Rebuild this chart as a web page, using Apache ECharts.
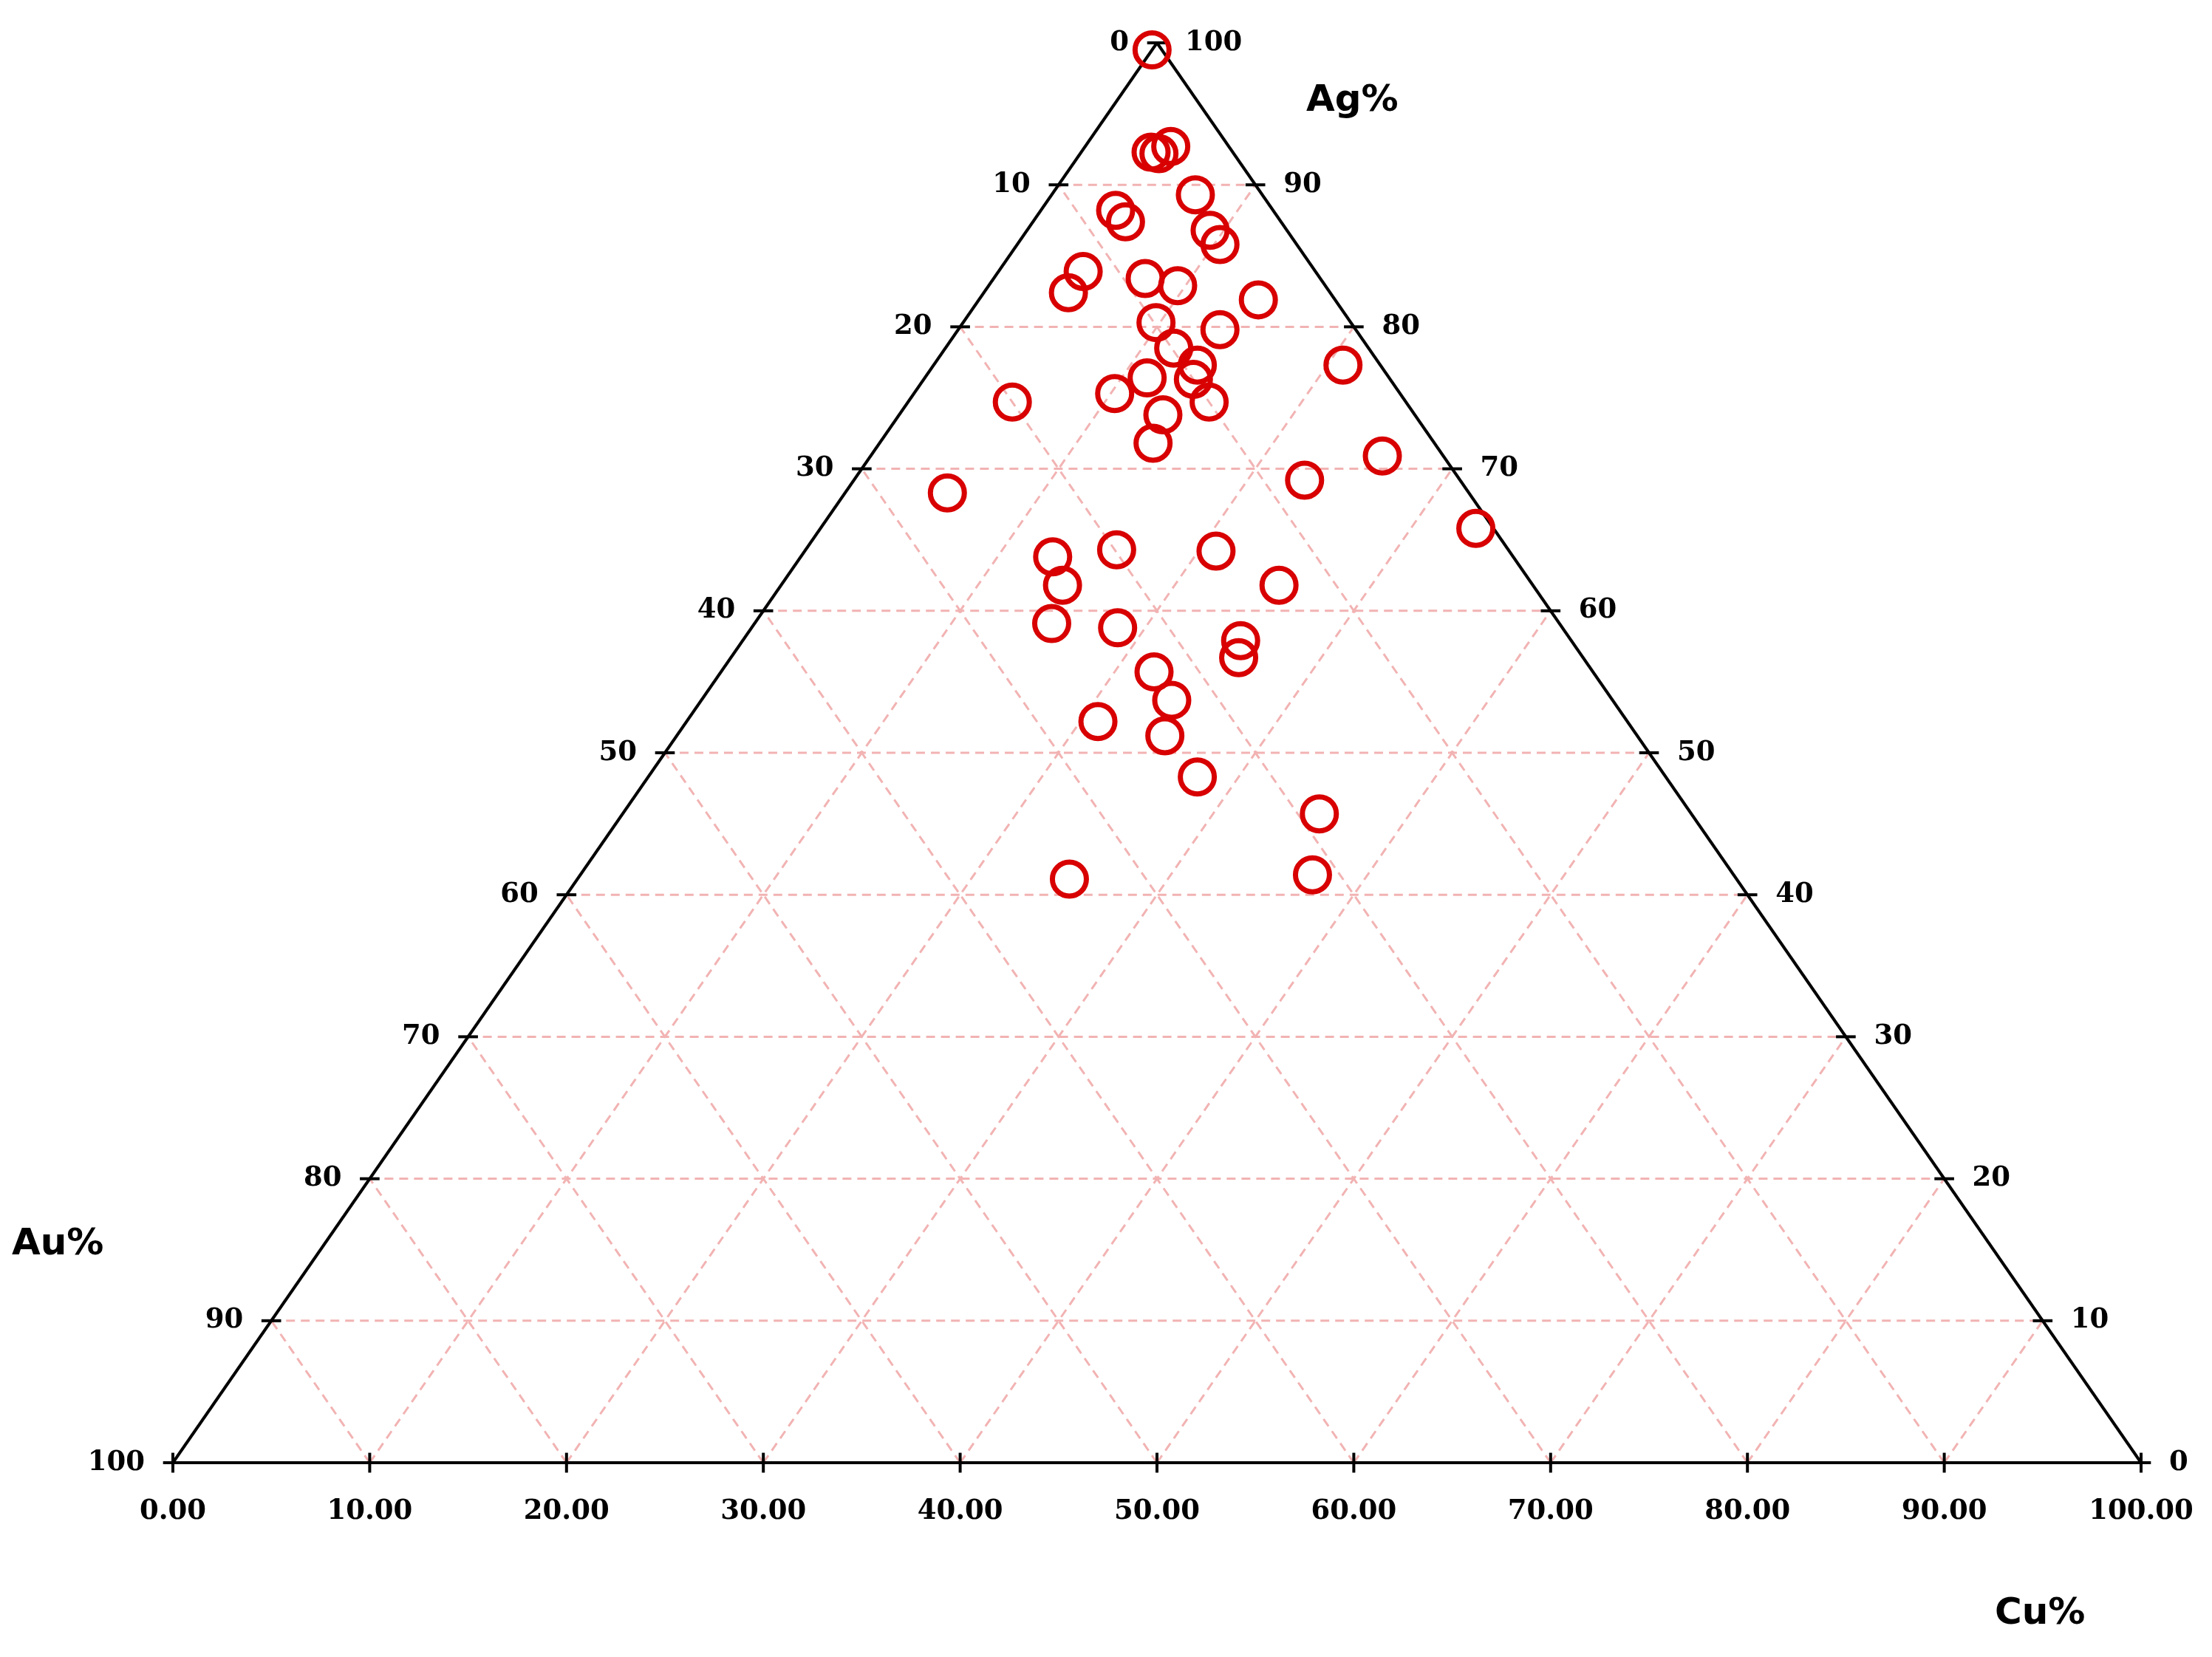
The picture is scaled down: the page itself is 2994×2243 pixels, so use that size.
<!DOCTYPE html>
<html><head><meta charset="utf-8">
<script src="https://cdn.jsdelivr.net/npm/echarts@6/dist/echarts.min.js"></script>
<style>html,body{margin:0;padding:0;background:#fff}#main{width:2994px;height:2243px}</style>
</head><body><div id="main"></div>
<script>
// ternary samples: Ag% and Cu%, Au% = 100 - Ag - Cu
var agVals = [99.5, 92.3, 92.2, 92.7, 89.3, 88.2, 87.4, 86.8, 85.8, 83.9, 82.4, 83.4, 82.9, 81.9, 80.3, 79.8, 78.5, 77.3,
  77.3, 76.3, 76.4, 74.7, 75.3, 74.7, 73.8, 71.8, 70.9, 69.2, 68.3, 65.8, 63.8, 64.3, 64.2, 61.8, 61.8, 59.1, 58.8, 57.9,
  56.7, 55.7, 53.7, 52.2, 51.2, 48.3, 45.7, 41.1, 41.4];
var cuVals = [0, 3.55, 4.0, 4.35, 7.3, 3.8, 4.7, 9.3, 10.3, 4.3, 4.3, 7.7, 9.6, 14.2, 9.8, 13.3, 11.6, 20.8,
  13.4, 13.7, 11.3, 15.3, 10.2, 5.3, 13.4, 13.9, 26.0, 22.9, 5.2, 33.3, 12.8, 15.8, 20.9, 14.3, 25.3, 15.1, 18.6, 25.3,
  25.8, 22.0, 23.9, 20.9, 24.8, 27.9, 35.4, 25.0, 37.2];
var gridSteps = [10, 20, 30, 40, 50, 60, 70, 80, 90];

var myChart = echarts.init(document.getElementById('main'));

// ternary -> cartesian (x along bottom, y = Ag)
function tern(ag, cu) { return [cu + ag / 2, ag]; }

var points = agVals.map(function (ag, i) { return tern(ag, cuVals[i]); });

var gridSegs = [];
gridSteps.forEach(function (k) {
  gridSegs.push(tern(k, 0).concat(tern(k, 100 - k)));        // Ag const
  gridSegs.push(tern(0, k).concat(tern(100 - k, k)));        // Cu const
  gridSegs.push(tern(0, 100 - k).concat(tern(100 - k, 0)));  // Au const
});
var edgeSegs = [[0, 0, 100, 0], [0, 0, 50, 100], [100, 0, 50, 100]];
var tickSegs = [];
gridSteps.forEach(function (k) {
  var l = tern(k, 0), r = tern(k, 100 - k);
  tickSegs.push([l[0] - 0.5, k, l[0] + 0.5, k]);
  tickSegs.push([r[0] - 0.5, k, r[0] + 0.5, k]);
});
[0, 10, 20, 30, 40, 50, 60, 70, 80, 90, 100].forEach(function (k) {
  tickSegs.push([k, -0.7, k, 0.7]);
});
tickSegs.push([-0.5, 0, 0.5, 0], [99.5, 0, 100.5, 0], [49.5, 100, 50.5, 100]);

function segSeries(data, style) {
  return {
    type: 'custom', data: data, silent: true, z: style.z || 2,
    renderItem: function (params, api) {
      var a = api.coord([api.value(0), api.value(1)]);
      var b = api.coord([api.value(2), api.value(3)]);
      return { type: 'line', shape: { x1: a[0], y1: a[1], x2: b[0], y2: b[1] }, style: style.s };
    }
  };
}

var leftLabels = gridSteps.map(function (k) { return { value: tern(k, 0), name: String(100 - k) }; });
leftLabels.push({ value: [0, 0], name: '100' }, { value: [50, 100], name: '0' });
var rightLabels = gridSteps.map(function (k) { return { value: tern(k, 100 - k), name: String(k) }; });
rightLabels.push({ value: [100, 0], name: '0' }, { value: [50, 100], name: '100' });
var lblFont = { fontFamily: 'DejaVu Serif', fontSize: 37, color: '#000', fontWeight: 'bold' };

myChart.setOption({
  animation: false,
  grid: { left: 234, right: 96, top: 58, bottom: 263 },
  xAxis: {
    type: 'value', min: 0, max: 100, interval: 10,
    axisLine: { show: false }, axisTick: { show: false }, splitLine: { show: false },
    axisLabel: Object.assign({ margin: 48, formatter: function (v) { return v.toFixed(2); } }, lblFont)
  },
  yAxis: { type: 'value', min: 0, max: 100, show: false },
  series: [
    segSeries(gridSegs, { s: { stroke: '#f2b3b3', lineWidth: 3, lineDash: [12, 8] }, z: 1 }),
    segSeries(edgeSegs, { s: { stroke: '#000', lineWidth: 4 }, z: 3 }),
    segSeries(tickSegs, { s: { stroke: '#000', lineWidth: 4 }, z: 3 }),
    {
      type: 'scatter', data: leftLabels, symbolSize: 0, silent: true, itemStyle: { opacity: 1 },
      label: Object.assign({ show: true, position: 'left', distance: 38, formatter: '{b}' }, lblFont)
    },
    {
      type: 'scatter', data: rightLabels, symbolSize: 0, silent: true, itemStyle: { opacity: 1 },
      label: Object.assign({ show: true, position: 'right', distance: 38, formatter: '{b}' }, lblFont)
    },
    {
      type: 'scatter', data: points, symbol: 'circle', symbolSize: 46, z: 5,
      itemStyle: { color: 'rgba(0,0,0,0)', borderColor: '#d80000', borderWidth: 7, opacity: 1 }
    }
  ],
  graphic: [
    { type: 'text', left: 1768, top: 112, style: { text: 'Ag%', font: 'bold 50px DejaVu Sans', fill: '#000' } },
    { type: 'text', left: 16, top: 1660, style: { text: 'Au%', font: 'bold 50px DejaVu Sans', fill: '#000' } },
    { type: 'text', left: 2700, top: 2160, style: { text: 'Cu%', font: 'bold 50px DejaVu Sans', fill: '#000' } }
  ]
});
</script>
</body></html>
